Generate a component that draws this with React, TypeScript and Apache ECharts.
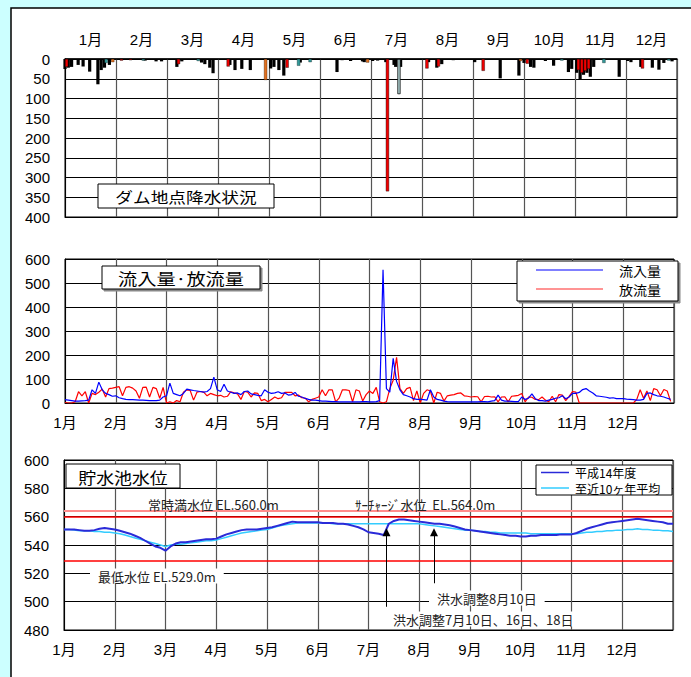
import React, { useEffect, useRef } from 'react';
import * as echarts from 'echarts';

// ---------- data ----------
const monthLabels = ['1月', '2月', '3月', '4月', '5月', '6月', '7月', '8月', '9月', '10月', '11月', '12月'];
const daysInMonth = [31, 28, 31, 30, 31, 30, 31, 31, 30, 31, 30, 31];

// daily precipitation at the dam [month, day, mm]
const rainBlack: number[][] = [
  [1, 1, 25], [1, 3, 22], [1, 5, 20], [1, 9, 15], [1, 12, 19], [1, 16, 32], [1, 21, 64], [1, 23, 28], [1, 25, 22], [1, 28, 15],
  [2, 7, 2], [2, 8, 2], [2, 17, 4], [2, 23, 6], [2, 26, 6],
  [3, 7, 20], [3, 10, 6], [3, 22, 9], [3, 24, 13], [3, 27, 22], [3, 29, 36],
  [4, 8, 15], [4, 11, 28], [4, 15, 25], [4, 20, 28],
  [5, 2, 24], [5, 4, 20], [5, 7, 28], [5, 10, 42], [5, 20, 9],
  [6, 11, 33], [6, 14, 3], [6, 19, 5], [6, 26, 6], [6, 27, 8],
  [7, 2, 5], [7, 5, 4], [7, 10, 8], [7, 15, 15], [7, 16, 20], [7, 19, 20],
  [8, 5, 8], [8, 10, 22], [8, 13, 13], [8, 20, 3],
  [9, 2, 8], [9, 17, 49], [9, 28, 42],
  [10, 1, 10], [10, 5, 20], [10, 7, 22], [10, 14, 5], [10, 19, 17], [10, 28, 33], [10, 30, 25],
  [11, 2, 35], [11, 4, 51], [11, 6, 40], [11, 8, 35], [11, 10, 45], [11, 12, 20], [11, 27, 45],
  [12, 2, 5], [12, 4, 8], [12, 10, 20], [12, 17, 22], [12, 21, 27], [12, 24, 10], [12, 29, 6],
];
const rainRed: number[][] = [
  [1, 2, 20], [2, 4, 4], [2, 9, 3], [3, 8, 13], [4, 7, 19], [5, 12, 22], [7, 11, 335], [8, 4, 24], [8, 11, 19],
  [9, 7, 30], [10, 3, 12], [11, 3, 28], [11, 5, 35], [11, 7, 30], [11, 9, 25], [12, 11, 24],
];
const rainTeal: number[][] = [
  [1, 26, 10], [2, 16, 4], [3, 20, 5], [5, 19, 17], [5, 26, 8], [10, 24, 4], [11, 18, 10], [12, 27, 4],
];
const rainOrange: number[][] = [[1, 30, 8], [4, 29, 53], [6, 29, 9], [9, 29, 5]];
const rainGray: number[][] = [[7, 18, 89]];

// inflow / outflow (m3/s), 15 samples per month
const inflow: number[] = [
  14, 12, 10, 8, 8, 9, 10, 12, 55, 40, 87, 55, 40, 35, 28,
  30, 22, 18, 15, 14, 14, 13, 12, 12, 11, 10, 10, 10, 12, 25,
  30, 83, 40, 35, 30, 40, 58, 55, 52, 50, 48, 45, 48, 60, 108,
  55, 48, 78, 50, 45, 40, 42, 35, 48, 50, 38, 35, 32, 30, 55,
  45, 40, 42, 47, 40, 42, 33, 35, 44, 28, 25, 19, 15, 12, 12,
  10, 8, 8, 7, 6, 6, 5, 5, 5, 5, 5, 5, 5, 6, 6,
  5, 5, 6, 10, 555, 60, 45, 186, 90, 55, 35, 30, 25, 18, 15,
  15, 14, 12, 55, 25, 15, 12, 8, 6, 5, 5, 5, 5, 5, 5,
  5, 5, 5, 6, 6, 5, 8, 10, 33, 12, 8, 8, 7, 6, 6,
  25, 15, 20, 38, 18, 10, 10, 8, 12, 15, 20, 22, 30, 18, 25,
  40, 40, 44, 56, 60, 50, 42, 30, 28, 26, 24, 20, 22, 18, 18,
  18, 16, 15, 14, 12, 12, 15, 40, 42, 35, 30, 28, 25, 20, 15,
];
const outflow: number[] = [
  2, 0, 0, 5, 47, 30, 47, 0, 40, 35, 45, 58, 25, 60, 62,
  65, 68, 30, 65, 68, 62, 50, 20, 65, 66, 25, 65, 60, 20, 65,
  0, 5, 0, 10, 5, 45, 55, 52, 12, 45, 48, 45, 30, 40, 35,
  30, 32, 25, 28, 47, 42, 38, 15, 48, 45, 25, 42, 40, 10, 15,
  5, 15, 25, 18, 22, 44, 44, 44, 30, 33, 22, 20, 5, 15, 20,
  25, 55, 30, 55, 55, 5, 20, 55, 55, 52, 5, 55, 50, 8, 35,
  50, 40, 65, 5, 0, 5, 60, 95, 190, 60, 40, 60, 65, 10, 50,
  0, 40, 55, 50, 0, 45, 40, 8, 30, 33, 35, 40, 42, 30, 28,
  25, 27, 26, 5, 27, 28, 25, 26, 5, 25, 26, 5, 28, 30, 32,
  40, 5, 25, 24, 15, 14, 25, 12, 5, 28, 5, 35, 33, 10, 28,
  48, 45, 0, 0, 0, 0, 0, 0, 0, 0, 0, 0, 0, 0, 0,
  0, 0, 0, 0, 15, 55, 20, 50, 10, 60, 55, 30, 56, 50, 7,
];

// reservoir water level (EL.m), 10 samples per month + year end
const level2002: number[] = [
  551, 551, 551, 550.5, 550, 550, 550.5, 551.5, 552, 551.5,
  551, 550, 549, 548, 546.5, 545, 543, 541, 539, 538,
  536, 539, 541, 542, 542, 542.5, 543, 543.5, 544, 544,
  544.5, 546, 547.5, 548.5, 549.5, 550.5, 551, 551, 551, 551.5,
  552, 552.5, 553.5, 554.5, 555.5, 556.5, 556, 556, 556, 556,
  556, 555.5, 555.5, 555.5, 555, 555, 554.5, 553.5, 552.5, 551,
  549, 548.5, 548, 547, 555, 557, 558, 558, 557.5, 557,
  556.5, 556, 555.5, 555, 555, 554.5, 554, 553, 552, 551,
  550.5, 550, 549.5, 549, 548.5, 548, 547.5, 547, 546.5, 546.5,
  546, 546, 546.5, 546.5, 547, 547, 547, 547, 547.5, 547.5,
  547.5, 548.5, 550, 551.5, 552.5, 553.5, 554.5, 555.5, 556, 556.5,
  557, 557.5, 558, 558.5, 558, 557.5, 557, 556.5, 556, 555,
  555,
];
const levelAvg10: number[] = [
  551, 551, 550.5, 550, 550, 550, 549.5, 549.5, 549, 549,
  548.5, 548, 547, 546, 545, 544, 543, 542, 541, 540,
  539, 540, 540.5, 540.5, 541, 541.5, 542, 542.5, 543, 543,
  543.5, 544.5, 545.5, 546.5, 547.5, 548.5, 549, 549.5, 550, 550.5,
  551, 552, 553, 554, 554.5, 555, 555.5, 555.5, 555.5, 555.5,
  555.5, 555.5, 555.5, 555, 555, 555, 555, 555, 555, 555,
  555, 555, 555, 555, 555, 555, 555, 555, 555, 555,
  555, 554.5, 554, 553.5, 553, 552.5, 552, 551.5, 551, 550.5,
  550.5, 550, 549.5, 549.5, 549, 549, 548.5, 548.5, 548.5, 548.5,
  548.5, 548.5, 548, 548, 548, 548, 548, 548, 548, 548,
  548, 548, 548.5, 549, 549, 549.5, 549.5, 550, 550, 550.5,
  550.5, 551, 551, 551.5, 551, 551, 550.5, 550.5, 550, 550,
  549.5,
];

const refLevels = [
  { value: 564, color: '#ff8c8c', width: 2.2 },
  { value: 560, color: '#ff0000', width: 1.5 },
  { value: 529, color: '#ff0000', width: 1.5 },
];
// flood-control arrows: [month, day, from level, to level]
const floodArrows: number[][] = [
  [7, 12, 496.4, 549],
  [8, 10, 513, 549],
];

// ---------- helpers ----------
const dayX = (m: number, d: number) => m - 1 + (d - 1) / daysInMonth[m - 1];
const rainPts = (arr: number[][]) => arr.map(([m, d, v]) => [dayX(m, d), v]);
const perMonth = (arr: number[], n: number) => arr.map((v, i) => [i / n, v]);

const FONT = '"Liberation Sans", Arial, "Noto Sans CJK JP", sans-serif';
const CJK = '"Noto Sans CJK JP", sans-serif';

export default function App() {
  const ref = useRef<HTMLDivElement>(null);
  useEffect(() => {
    if (!ref.current) return;
    const chart = echarts.init(ref.current, undefined, { renderer: 'svg' });

    const gridBase = { show: true, backgroundColor: '#fff', borderColor: '#000', borderWidth: 1, containLabel: false };
    const valX = (gi: number, showLabels: boolean, position: string) => ({
      gridIndex: gi,
      type: 'value',
      min: 0,
      max: 12,
      interval: 1,
      position,
      axisLine: { show: true, onZero: false, lineStyle: { color: '#000', width: 1 } },
      axisTick: { show: false },
      axisLabel: {
        show: showLabels,
        color: '#000',
        fontSize: 15,
        fontFamily: FONT,
        margin: 12,
        formatter: (v: number) => (v < 12 ? monthLabels[Math.round(v)] : ''),
      },
      splitLine: { show: true, lineStyle: { color: '#555', width: 1.2 } },
    });
    const valY = (gi: number, min: number, max: number, interval: number, inverse = false) => ({
      gridIndex: gi,
      type: 'value',
      min,
      max,
      interval,
      inverse,
      axisLine: { show: true, lineStyle: { color: '#000', width: 1 } },
      axisTick: { show: false },
      axisLabel: { color: '#000', fontSize: 15, fontFamily: FONT, margin: 15 },
      splitLine: { show: true, lineStyle: { color: '#000', width: 1 } },
    });

    const barCommon = {
      type: 'bar',
      xAxisIndex: 0,
      yAxisIndex: 0,
      barWidth: 3.2,
      barGap: '-100%',
    };

    const txt = (text: string, x: number, y: number, size: number, opts: any = {}) => ({
      type: 'text',
      z: 101,
      x,
      y,
      scaleX: opts.scaleX || 1,
      style: {
        text,
        fontSize: size,
        fontFamily: opts.family || CJK,
        fill: opts.fill || '#000',
        align: opts.align || 'left',
        textAlign: opts.align || 'left',
        verticalAlign: 'middle',
        textVerticalAlign: 'middle',
        backgroundColor: opts.bg,
        padding: opts.pad,
        lineHeight: opts.lh,
      },
    });
    const rect = (x: number, y: number, w: number, h: number, z = 100, fill = '#fff', stroke = '#000') => ({
      type: 'rect',
      z,
      shape: { x, y, width: w, height: h },
      style: { fill, stroke, lineWidth: 1 },
    });
    const seg = (x1: number, y1: number, x2: number, y2: number, color: string, width: number) => ({
      type: 'line',
      z: 101,
      shape: { x1, y1, x2, y2 },
      style: { stroke: color, lineWidth: width },
    });

    const option: any = {
      animation: false,
      textStyle: { fontFamily: FONT },
      grid: [
        { ...gridBase, left: 65, right: 14, top: 59, height: 158 },
        { ...gridBase, left: 65, right: 17, top: 259, height: 144 },
        { ...gridBase, left: 64, right: 18, top: 460, height: 170 },
      ],
      xAxis: [
        valX(0, false, 'bottom'),
        {
          gridIndex: 0,
          type: 'category',
          data: monthLabels,
          position: 'top',
          boundaryGap: true,
          axisLine: { show: true, onZero: false, lineStyle: { color: '#000', width: 1.5 } },
          axisTick: { show: false },
          splitLine: { show: false },
          axisLabel: { color: '#000', fontSize: 15, fontFamily: FONT, margin: 12 },
        },
        valX(1, true, 'bottom'),
        valX(2, true, 'bottom'),
      ],
      yAxis: [valY(0, 0, 400, 50, true), valY(1, 0, 600, 100), valY(2, 480, 600, 20)],
      series: [
        { ...barCommon, name: 'rainBlack', data: rainPts(rainBlack), itemStyle: { color: '#000' } },
        { ...barCommon, name: 'rainRed', data: rainPts(rainRed), itemStyle: { color: '#f00000', borderColor: '#000', borderWidth: 0.4 } },
        { ...barCommon, name: 'rainTeal', data: rainPts(rainTeal), itemStyle: { color: '#339999', borderColor: '#000', borderWidth: 0.3 } },
        { ...barCommon, name: 'rainOrange', data: rainPts(rainOrange), itemStyle: { color: '#e07020', borderColor: '#000', borderWidth: 0.3 } },
        { ...barCommon, name: 'rainGray', data: rainPts(rainGray), itemStyle: { color: '#a8c8c8', borderColor: '#000', borderWidth: 0.7 } },
        {
          type: 'line', name: '放流量', xAxisIndex: 2, yAxisIndex: 1, data: perMonth(outflow, 15),
          showSymbol: false, symbol: 'none', lineStyle: { color: '#ff0000', width: 1.2 }, z: 3,
        },
        {
          type: 'line', name: '流入量', xAxisIndex: 2, yAxisIndex: 1, data: perMonth(inflow, 15),
          showSymbol: false, symbol: 'none', lineStyle: { color: '#0000ff', width: 1.2 }, z: 4,
        },
        {
          type: 'line', name: '至近10ヶ年平均', xAxisIndex: 3, yAxisIndex: 2, data: perMonth(levelAvg10, 10),
          showSymbol: false, symbol: 'none', lineStyle: { color: '#33ccff', width: 1.5 }, z: 3,
          markLine: {
            silent: true,
            symbol: ['none', 'triangle'],
            symbolSize: 8,
            label: { show: false },
            lineStyle: { color: '#000', width: 1, type: 'solid' },
            itemStyle: { color: '#000' },
            data: floodArrows.map(([m, d, from, to]) => [
              { coord: [dayX(m, d), from] },
              { coord: [dayX(m, d), to] },
            ]),
          },
        },
        {
          type: 'line', name: '平成14年度', xAxisIndex: 3, yAxisIndex: 2, data: perMonth(level2002, 10),
          showSymbol: false, symbol: 'none', lineStyle: { color: '#2a2ad8', width: 2 }, z: 4,
          markLine: {
            silent: true,
            symbol: 'none',
            label: { show: false },
            z: 2,
            data: refLevels.map((r) => ({ yAxis: r.value, lineStyle: { color: r.color, width: r.width, type: 'solid' } })),
          },
        },
      ],
      graphic: [
        // white sheet
        { type: 'rect', z: -10, shape: { x: 11, y: 8, width: 700, height: 700 }, style: { fill: '#fff', stroke: '#000', lineWidth: 1.5 } },
        // panel titles
        rect(98, 184, 176, 24),
        txt('ダム地点降水状況', 186, 196.5, 15, { align: 'center', scaleX: 1.18 }),
        rect(104, 268, 158, 23, 99, '#888', '#888'),
        rect(102, 266, 158, 23),
        txt('流入量·放流量', 181, 278, 16, { align: 'center', scaleX: 1.2 }),
        rect(66, 464, 114, 24),
        txt('貯水池水位', 123, 476.5, 16, { align: 'center', scaleX: 1.12 }),
        // inflow/outflow legend
        rect(519, 263, 161, 40, 99, '#888', '#888'),
        rect(517, 261, 161, 40),
        seg(536, 270, 603, 270, '#0000ff', 1.2),
        seg(536, 289, 603, 289, '#ff7070', 1.6),
        txt('流入量', 619, 270, 13, { scaleX: 1.08 }),
        txt('放流量', 619, 289, 13, { scaleX: 1.08 }),
        // water level legend
        rect(536, 465, 136, 30),
        seg(541, 472.5, 569, 472.5, '#2a2ad8', 1.5),
        seg(541, 488, 569, 488, '#33ccff', 1.5),
        txt('平成14年度', 575, 472.5, 12, { lh: 12 }),
        txt('至近10ヶ年平均', 575, 488, 12, { lh: 12 }),
        // annotations
        txt('常時満水位 EL.560.0m', 148, 504, 13, { fill: '#222' }),
        txt('ｻｰﾁｬｰｼﾞ水位  EL.564.0m', 355, 504, 13, { fill: '#222' }),
        txt('最低水位 EL.529.0m', 90, 576, 13, { fill: '#222', bg: '#fff', pad: [1, 8, 1, 8] }),
        txt('洪水調整8月10日', 429, 598, 13, { fill: '#222', bg: '#fff', pad: [1, 8, 1, 8] }),
        txt('洪水調整7月10日、16日、18日', 390, 619, 13, { fill: '#222', bg: '#fff', pad: [1, 3, 1, 3] }),
      ],
    };

    chart.setOption(option);
    return () => chart.dispose();
  }, []);

  return (
    <div
      ref={ref}
      style={{ position: 'fixed', left: 0, top: 0, width: 691, height: 677, background: '#ccffff' }}
    />
  );
}
